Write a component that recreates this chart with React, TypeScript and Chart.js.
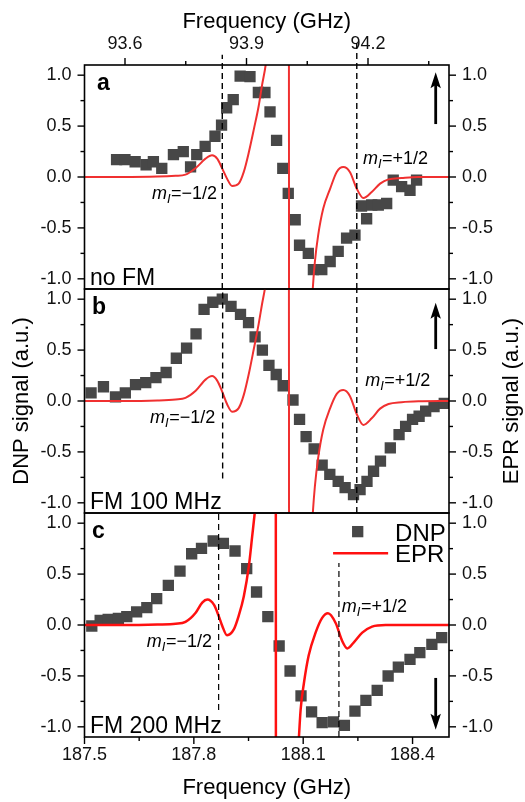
import React, { useEffect, useRef } from "react";
import { Chart, registerables } from "chart.js";

Chart.register(...registerables);

const FONT = "'Liberation Sans', Arial, Helvetica, sans-serif";
Chart.defaults.font.family = FONT;
Chart.defaults.color = "#111";

// ---------- axes ----------
const FREQ_MIN = 187.5;
const FREQ_MAX = 188.5;
const HALF_FREQ_MIN = 93.5;
const HALF_FREQ_MAX = 94.4;
const SIGNAL_MIN = -1.1;
const SIGNAL_MAX = 1.1;
const FREQ_TICKS = [187.5, 187.65, 187.8, 187.95, 188.1, 188.25, 188.4];
const HALF_FREQ_TICKS = [93.6, 93.75, 93.9, 94.05, 94.2, 94.35];
const SIGNAL_TICKS = [-1.0, -0.75, -0.5, -0.25, 0, 0.25, 0.5, 0.75, 1.0];
const X_TITLE = "Frequency (GHz)";
const LEFT_TITLE = "DNP signal (a.u.)";
const RIGHT_TITLE = "EPR signal (a.u.)";
const PANEL_LETTERS = ["a", "b", "c"];
const PANEL_NOTES = ["no FM", "FM 100 MHz", "FM 200 MHz"];
const LEGEND_LABELS = ["DNP", "EPR"];

// ---------- panel a (no FM) ----------
const dnpFreqA = [187.588, 187.611, 187.639, 187.669, 187.689, 187.712, 187.744, 187.771, 187.791, 187.808, 187.831, 187.858, 187.876, 187.89, 187.908, 187.927, 187.954, 187.977, 187.995, 188.009, 188.027, 188.044, 188.059, 188.078, 188.09, 188.114, 188.128, 188.151, 188.174, 188.196, 188.219, 188.242, 188.26, 188.274, 188.288, 188.306, 188.329, 188.347, 188.37, 188.393, 188.411];
const dnpSignalA = [0.17, 0.17, 0.15, 0.12, 0.15, 0.085, 0.22, 0.25, 0.1, 0.22, 0.3, 0.4, 0.51, 0.68, 0.76, 0.99, 0.985, 0.83, 0.83, 0.64, 0.36, 0.085, -0.16, -0.42, -0.67, -0.75, -0.91, -0.91, -0.83, -0.73, -0.6, -0.57, -0.285, -0.41, -0.275, -0.275, -0.26, -0.03, -0.095, -0.13, -0.03];
const eprFreqA = [187.5, 187.6, 187.7, 187.75, 187.777, 187.805, 187.832, 187.85, 187.864, 187.878, 187.891, 187.905, 187.923, 187.937, 187.951, 187.965, 187.978, 187.987, 187.997, 188.01, 188.03, 188.05, 188.06, 188.062, 188.085, 188.105, 188.12, 188.126, 188.132, 188.141, 188.155, 188.174, 188.192, 188.21, 188.228, 188.247, 188.265, 188.288, 188.311, 188.334, 188.37, 188.416, 188.5];
const eprSignalA = [0, 0, 0.004, 0.012, 0.023, 0.088, 0.18, 0.213, 0.18, 0.082, -0.016, -0.088, -0.065, 0.05, 0.245, 0.475, 0.7, 0.9, 1.1, 1.5, 2.4, 4.0, 6.0, -6.0, -3.6, -2.3, -1.5, -1.11, -0.835, -0.573, -0.31, -0.115, 0.05, 0.098, 0.05, -0.115, -0.206, -0.147, -0.065, -0.023, -0.01, 0, 0];
const markerLinesA = [[187.878, -1.1, 1.2], [188.247, -1.1, 1.32]];
const spinLabelsA = [[187.685, -0.216, "\u22121/2"], [188.264, 0.13, "+1/2"]];
const arrowA = [188.4635, 0.52, 1.03];

// ---------- panel b (FM 100 MHz) ----------
const dnpFreqB = [187.518, 187.552, 187.585, 187.612, 187.64, 187.668, 187.696, 187.724, 187.752, 187.78, 187.806, 187.828, 187.852, 187.878, 187.902, 187.928, 187.95, 187.968, 187.988, 188.006, 188.026, 188.045, 188.072, 188.09, 188.108, 188.13, 188.152, 188.173, 188.196, 188.215, 188.238, 188.256, 188.275, 188.293, 188.312, 188.339, 188.363, 188.381, 188.4, 188.418, 188.436, 188.459, 188.487];
const dnpSignalB = [0.08, 0.14, 0.04, 0.08, 0.16, 0.18, 0.23, 0.28, 0.42, 0.52, 0.66, 0.9, 0.97, 1.0, 0.93, 0.85, 0.77, 0.63, 0.5, 0.35, 0.26, 0.15, 0.01, -0.18, -0.35, -0.47, -0.63, -0.72, -0.79, -0.85, -0.92, -0.87, -0.79, -0.69, -0.59, -0.46, -0.33, -0.25, -0.18, -0.15, -0.1, -0.056, -0.023];
const eprFreqB = [187.5, 187.6, 187.7, 187.75, 187.777, 187.805, 187.832, 187.85, 187.864, 187.878, 187.891, 187.905, 187.923, 187.937, 187.951, 187.965, 187.978, 187.987, 187.997, 188.01, 188.03, 188.05, 188.06, 188.062, 188.085, 188.105, 188.12, 188.126, 188.132, 188.141, 188.155, 188.174, 188.192, 188.21, 188.228, 188.247, 188.265, 188.288, 188.311, 188.334, 188.37, 188.416, 188.5];
const eprSignalB = [0, 0, 0.005, 0.015, 0.03, 0.1, 0.21, 0.245, 0.2, 0.09, -0.03, -0.105, -0.07, 0.06, 0.27, 0.52, 0.76, 0.95, 1.15, 1.55, 2.5, 4.1, 6.0, -6.0, -3.6, -2.3, -1.5, -1.12, -0.84, -0.56, -0.28, -0.07, 0.07, 0.108, 0.05, -0.13, -0.235, -0.17, -0.075, -0.03, -0.012, -0.003, 0];
const markerLinesB = [[187.879, -0.76, 1.1], [188.247, -1.1, 1.1]];
const spinLabelsB = [[187.68, -0.213, "\u22121/2"], [188.27, 0.147, "+1/2"]];
const arrowB = [188.4635, 0.51, 0.966];

// ---------- panel c (FM 200 MHz) ----------
const dnpFreqC = [187.52, 187.543, 187.565, 187.593, 187.616, 187.643, 187.671, 187.698, 187.73, 187.762, 187.794, 187.821, 187.853, 187.881, 187.913, 187.945, 187.972, 188.003, 188.034, 188.064, 188.094, 188.123, 188.152, 188.183, 188.213, 188.242, 188.272, 188.303, 188.333, 188.361, 188.393, 188.42, 188.453, 188.48];
const dnpSignalC = [-0.01, 0.046, 0.056, 0.065, 0.082, 0.128, 0.17, 0.259, 0.39, 0.53, 0.7, 0.753, 0.825, 0.802, 0.727, 0.553, 0.324, 0.082, -0.206, -0.452, -0.697, -0.854, -0.959, -0.952, -0.985, -0.845, -0.74, -0.642, -0.501, -0.413, -0.337, -0.272, -0.19, -0.124];
const eprFreqC = [187.5, 187.6, 187.7, 187.75, 187.777, 187.805, 187.823, 187.837, 187.855, 187.868, 187.878, 187.891, 187.91, 187.923, 187.937, 187.951, 187.96, 187.967, 187.98, 188.0, 188.015, 188.024, 188.026, 188.05, 188.07, 188.082, 188.088, 188.093, 188.102, 188.115, 188.134, 188.152, 188.168, 188.189, 188.207, 188.221, 188.239, 188.262, 188.289, 188.326, 188.417, 188.5];
const eprSignalC = [0, 0, 0.005, 0.012, 0.03, 0.12, 0.22, 0.25, 0.2, 0.09, -0.01, -0.1, -0.04, 0.09, 0.28, 0.58, 0.87, 1.1, 1.6, 2.8, 4.5, 7, -7, -4, -2.3, -1.5, -1.12, -0.83, -0.57, -0.3, -0.075, 0.07, 0.115, 0.02, -0.157, -0.23, -0.17, -0.075, -0.016, 0, 0, 0];
const markerLinesC = [[187.868, -0.835, 1.1], [188.198, -1.1, 0.61]];
const spinLabelsC = [[187.671, -0.213, "\u22121/2"], [188.206, 0.13, "+1/2"]];
const arrowC = [188.4635, -0.52, -1.03];
// legend placement (data coords in panel c)
const legendMarkerC = [188.2495, 0.917];
const legendLineC = [188.182, 188.333, 0.704];
const legendTextC = [188.352, 0.825, 0.62];

const DNP_COLOR = "#474747";

const PANELS = [
  { dnpFreq: dnpFreqA, dnpSignal: dnpSignalA, eprFreq: eprFreqA, eprSignal: eprSignalA, lines: markerLinesA, spins: spinLabelsA, arrow: arrowA, eprColor: "#f03030", eprWidth: 2 },
  { dnpFreq: dnpFreqB, dnpSignal: dnpSignalB, eprFreq: eprFreqB, eprSignal: eprSignalB, lines: markerLinesB, spins: spinLabelsB, arrow: arrowB, eprColor: "#f03030", eprWidth: 2 },
  { dnpFreq: dnpFreqC, dnpSignal: dnpSignalC, eprFreq: eprFreqC, eprSignal: eprSignalC, lines: markerLinesC, spins: spinLabelsC, arrow: arrowC, eprColor: "#ff1010", eprWidth: 2.5 },
];

const W = 525;
const H = 802;
const PANEL_EDGES = [[65, 289], [289, 513], [513, 737]];
const LEFT_AXIS_W = 84.5;
const RIGHT_AXIS_W = W - 449;

const fmtX = (v: number) => (Math.round(v * 100) % 30 === 0 ? v.toFixed(1) : "");
const fmtY = (v: number) => (Math.round(v * 100) % 50 === 0 ? (Math.abs(v) < 1e-9 ? "0.0" : v.toFixed(1)) : "");
const setTicks = (vals: number[]) => (s: any) => { s.ticks = vals.map((v) => ({ value: v })); };

function tickMarks(ctx: any, scale: any, side: string, ca: any) {
  if (!scale) return;
  for (const t of scale.ticks) {
    const major = t.label !== "" && t.label != null;
    const len = major ? 7 : 4;
    const p = scale.getPixelForValue(t.value);
    ctx.beginPath();
    if (side === "left") { ctx.moveTo(ca.left, p); ctx.lineTo(ca.left - len, p); }
    else if (side === "right") { ctx.moveTo(ca.right, p); ctx.lineTo(ca.right + len, p); }
    else if (side === "top") { ctx.moveTo(p, ca.top); ctx.lineTo(p, ca.top - len); }
    else { ctx.moveTo(p, ca.bottom); ctx.lineTo(p, ca.bottom + len); }
    ctx.stroke();
  }
}

function drawArrow(ctx: any, x: number, yTail: number, yTip: number) {
  const dir = Math.sign(yTip - yTail);
  const headLen = 16;
  const headW = 5.2;
  ctx.strokeStyle = "#000";
  ctx.fillStyle = "#000";
  ctx.lineWidth = 2.8;
  ctx.lineCap = "butt";
  ctx.beginPath();
  ctx.moveTo(x, yTail);
  ctx.lineTo(x, yTip - dir * headLen * 0.7);
  ctx.stroke();
  ctx.beginPath();
  ctx.moveTo(x, yTip);
  ctx.lineTo(x - headW, yTip - dir * headLen);
  ctx.lineTo(x, yTip - dir * headLen * 0.8);
  ctx.lineTo(x + headW, yTip - dir * headLen);
  ctx.closePath();
  ctx.fill();
}

function drawSpin(ctx: any, x: number, y: number, tail: string) {
  ctx.font = `italic 18px ${FONT}`;
  ctx.fillText("m", x, y);
  let w = ctx.measureText("m").width;
  ctx.font = `italic 13px ${FONT}`;
  ctx.fillText("I", x + w, y + 4);
  w += ctx.measureText("I").width + 0.5;
  ctx.font = `18px ${FONT}`;
  ctx.fillText("=" + tail, x + w, y);
}

function decorPlugin(idx: number) {
  const p = PANELS[idx];
  return {
    id: "decor" + idx,
    afterDraw(chart: any) {
      const { ctx, chartArea: ca, scales } = chart;
      const xs = scales.x;
      const ys = scales.y;
      ctx.save();
      ctx.strokeStyle = "#000";
      ctx.fillStyle = "#000";
      ctx.setLineDash([]);
      ctx.lineWidth = 1.6;
      ctx.strokeRect(ca.left, ca.top, ca.right - ca.left, ca.bottom - ca.top);
      ctx.lineWidth = 1.4;
      tickMarks(ctx, scales.y, "left", ca);
      tickMarks(ctx, scales.y2, "right", ca);
      if (idx === 0) tickMarks(ctx, scales.x2, "top", ca);
      if (idx === 2) tickMarks(ctx, scales.x, "bottom", ca);

      ctx.textAlign = "left";
      ctx.textBaseline = "alphabetic";
      ctx.font = `bold 23px ${FONT}`;
      ctx.fillText(PANEL_LETTERS[idx], ca.left + (idx === 0 ? 12.5 : 7.5), ca.top + 24.5);
      ctx.font = `23px ${FONT}`;
      ctx.fillText(PANEL_NOTES[idx], ca.left + 5.5, ca.bottom - 4.3);

      for (const s of p.spins) {
        drawSpin(ctx, xs.getPixelForValue(s[0]), ys.getPixelForValue(s[1]), s[2] as string);
      }

      const a = p.arrow;
      drawArrow(ctx, xs.getPixelForValue(a[0]), ys.getPixelForValue(a[1]), ys.getPixelForValue(a[2]));

      if (idx === 2) {
        const side = 11.3;
        ctx.fillStyle = DNP_COLOR;
        const mx = xs.getPixelForValue(legendMarkerC[0]);
        const my = ys.getPixelForValue(legendMarkerC[1]);
        ctx.fillRect(mx - side / 2, my - side / 2, side, side);
        ctx.strokeStyle = p.eprColor;
        ctx.lineWidth = p.eprWidth;
        ctx.beginPath();
        const ly = ys.getPixelForValue(legendLineC[2]);
        ctx.moveTo(xs.getPixelForValue(legendLineC[0]), ly);
        ctx.lineTo(xs.getPixelForValue(legendLineC[1]), ly);
        ctx.stroke();
        ctx.fillStyle = "#000";
        ctx.font = `24px ${FONT}`;
        const tx = xs.getPixelForValue(legendTextC[0]);
        ctx.fillText(LEGEND_LABELS[0], tx, ys.getPixelForValue(legendTextC[1]));
        ctx.fillText(LEGEND_LABELS[1], tx, ys.getPixelForValue(legendTextC[2]));
      }

      if (idx === 1) {
        ctx.fillStyle = "#000";
        ctx.font = `22px ${FONT}`;
        ctx.textAlign = "center";
        ctx.textBaseline = "middle";
        ctx.translate(chart.width - 13.5, (ca.top + ca.bottom) / 2);
        ctx.rotate(-Math.PI / 2);
        ctx.fillText(RIGHT_TITLE, 0, 0);
      }
      ctx.restore();
    },
  };
}

function buildConfig(idx: number): any {
  const p = PANELS[idx];
  const [top, bottom] = PANEL_EDGES[idx];
  const tickFont = { family: FONT, size: 18 };
  const titleFont = { family: FONT, size: 22 };
  const noGrid = { display: false, drawTicks: false, tickLength: 0 };

  const datasets: any[] = [];
  p.lines.forEach((l: any) => {
    datasets.push({
      type: "line",
      data: [{ x: l[0], y: l[1] }, { x: l[0], y: l[2] }],
      borderColor: "#000",
      borderWidth: idx === 2 ? 1.2 : 1.4,
      borderDash: [6, 4],
      pointRadius: 0,
      fill: false,
      order: 0,
      clip: idx === 0 ? false : 0,
    });
  });
  datasets.push({
    type: "line",
    label: LEGEND_LABELS[1],
    data: p.eprFreq.map((f: number, i: number) => ({ x: f, y: p.eprSignal[i] })),
    borderColor: p.eprColor,
    borderWidth: p.eprWidth,
    pointRadius: 0,
    cubicInterpolationMode: "monotone",
    fill: false,
    order: 1,
  });
  datasets.push({
    type: "line",
    label: LEGEND_LABELS[0],
    data: p.dnpFreq.map((f: number, i: number) => ({ x: f, y: p.dnpSignal[i] })),
    showLine: false,
    pointStyle: "rect",
    pointRadius: 8,
    pointBorderWidth: 0,
    pointBackgroundColor: DNP_COLOR,
    pointBorderColor: DNP_COLOR,
    order: 2,
  });

  const xScale: any = {
    type: "linear",
    position: "bottom",
    min: FREQ_MIN,
    max: FREQ_MAX,
    display: idx === 2,
    grid: noGrid,
    border: { display: false },
    afterBuildTicks: setTicks(FREQ_TICKS),
    ticks: { autoSkip: false, maxRotation: 0, minRotation: 0, padding: 7, color: "#111", font: tickFont, callback: (v: any) => fmtX(Number(v)) },
    title: { display: true, text: X_TITLE, color: "#000", font: titleFont, padding: { top: 0, bottom: 1 } },
  };
  if (idx === 2) xScale.afterFit = (s: any) => { s.height = H - bottom; };

  const yBase = (pos: string) => ({
    type: "linear",
    position: pos,
    min: SIGNAL_MIN,
    max: SIGNAL_MAX,
    grid: noGrid,
    border: { display: false },
    afterBuildTicks: setTicks(SIGNAL_TICKS),
    ticks: { autoSkip: false, padding: 13, color: "#111", font: tickFont, callback: (v: any) => fmtY(Number(v)) },
  });

  const scales: any = {
    x: xScale,
    y: {
      ...yBase("left"),
      title: { display: idx === 1, text: LEFT_TITLE, color: "#000", font: titleFont, padding: { top: 9, bottom: 0 } },
      afterFit: (s: any) => { s.width = LEFT_AXIS_W; },
    },
    y2: {
      ...yBase("right"),
      afterFit: (s: any) => { s.width = RIGHT_AXIS_W; },
    },
  };
  if (idx === 0) {
    scales.x2 = {
      type: "linear",
      position: "top",
      min: HALF_FREQ_MIN,
      max: HALF_FREQ_MAX,
      grid: noGrid,
      border: { display: false },
      afterBuildTicks: setTicks(HALF_FREQ_TICKS),
      ticks: { autoSkip: false, maxRotation: 0, minRotation: 0, padding: 10, color: "#111", font: tickFont, callback: (v: any) => fmtX(Number(v)) },
      title: { display: true, text: X_TITLE, color: "#000", font: titleFont, padding: { top: 8.5, bottom: 0 } },
      afterFit: (s: any) => { s.height = top; },
    };
  }

  return {
    type: "line",
    data: { datasets },
    options: {
      responsive: false,
      animation: false,
      devicePixelRatio: 1,
      events: [],
      layout: {
        padding: {
          left: 0,
          right: 0,
          top: idx === 0 ? 0 : top,
          bottom: idx === 2 ? 0 : H - bottom,
        },
      },
      plugins: { legend: { display: false }, tooltip: { enabled: false }, title: { display: false } },
      scales,
    },
    plugins: [decorPlugin(idx)],
  };
}

export default function App() {
  const r0 = useRef<HTMLCanvasElement>(null);
  const r1 = useRef<HTMLCanvasElement>(null);
  const r2 = useRef<HTMLCanvasElement>(null);
  useEffect(() => {
    const refs = [r0, r1, r2];
    const charts = refs.map((r, i) => new Chart(r.current as HTMLCanvasElement, buildConfig(i)));
    return () => charts.forEach((c) => c.destroy());
  }, []);
  const cs: any = { position: "absolute", left: 0, top: 0, width: W, height: H };
  return (
    <div style={{ position: "absolute", left: 0, top: 0, width: W, height: H, background: "#fff", overflow: "hidden" }}>
      <canvas ref={r0} width={W} height={H} style={cs} />
      <canvas ref={r1} width={W} height={H} style={cs} />
      <canvas ref={r2} width={W} height={H} style={cs} />
    </div>
  );
}
